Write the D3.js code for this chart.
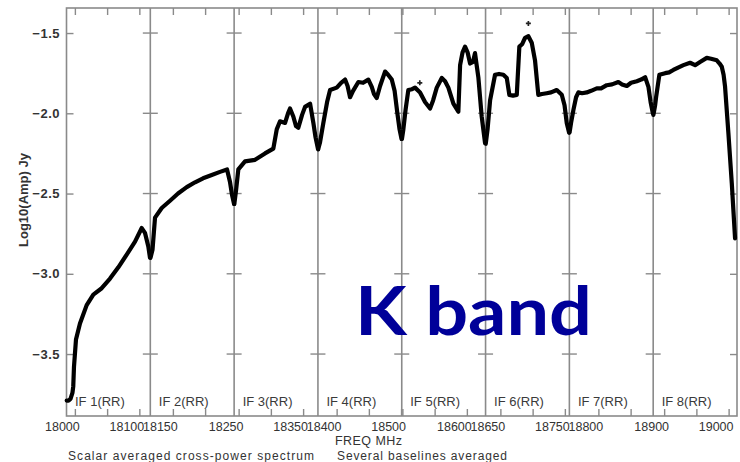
<!DOCTYPE html>
<html>
<head>
<meta charset="utf-8">
<script src="https://cdn.jsdelivr.net/npm/d3@7"></script>
<style>
  html, body { margin: 0; padding: 0; background: #fff; }
  svg { display: block; }
  text { font-family: "Liberation Sans", Arial, Helvetica, sans-serif; }
</style>
</head>
<body>
<svg id="chart" width="740" height="462"></svg>
<script>
// ---------- DATA ----------
const ifNames = ["IF 1(RR)", "IF 2(RR)", "IF 3(RR)", "IF 4(RR)", "IF 5(RR)", "IF 6(RR)", "IF 7(RR)", "IF 8(RR)"];
const ifStartFreq = [17987, 18115, 18243, 18371, 18499, 18627, 18755, 18883]; // MHz
const ifBandwidth = 130; // MHz shown per IF panel
const xTickLabels = [
  [18000, 18100], [18150], [18250, 18350], [18400, 18500],
  [18600], [18650, 18750], [18800], [18900, 19000]
];
const yTicks = [-1.5, -2.0, -2.5, -3.0, -3.5];
const yDomain = [-3.886, -1.344];

// [freq MHz, log10(Amp) Jy] per IF
const if1 = [[17987.3,-3.79],[17990.1,-3.79],[17993.2,-3.78],[17996.3,-3.74],[17997.5,-3.70],[17998.6,-3.58],
  [18001.7,-3.41],[18007.9,-3.31],[18018.3,-3.195],[18028.6,-3.13],[18041.6,-3.09],[18054.5,-3.03],
  [18067.4,-2.96],[18080.4,-2.88],[18093.3,-2.80],[18103.7,-2.715],[18108.7,-2.745],[18113.9,-2.83],[18116.5,-2.90]];
const if2 = [[18115.3,-2.90],[18118.4,-2.85],[18122.3,-2.65],[18132.7,-2.59],[18145.6,-2.545],[18158,-2.50],
  [18171.5,-2.46],[18184.4,-2.43],[18196.8,-2.405],[18210.3,-2.385],[18223.1,-2.365],[18234,-2.35],
  [18238.7,-2.43],[18241.8,-2.51],[18244.9,-2.565]];
const if3 = [[18243.3,-2.565],[18246,-2.48],[18249.5,-2.35],[18259.9,-2.30],[18275.4,-2.29],[18290.9,-2.25],
  [18303.8,-2.22],[18309.1,-2.10],[18314.2,-2.05],[18322,-2.06],[18326.6,-2.00],[18329.7,-1.97],
  [18334.8,-2.02],[18339,-2.08],[18342.6,-2.09],[18348.4,-2.01],[18353,-1.96],[18360.8,-1.94],
  [18365.9,-2.06],[18369.3,-2.15],[18373.2,-2.225]];
const if4 = [[18371.6,-2.22],[18374.3,-2.18],[18379.4,-2.06],[18385.2,-1.93],[18389.8,-1.855],[18400.2,-1.84],
  [18406.9,-1.81],[18413.1,-1.79],[18417,-1.83],[18420.8,-1.90],[18425.5,-1.86],[18433.7,-1.805],
  [18441,-1.81],[18449.2,-1.79],[18454.5,-1.835],[18458,-1.88],[18462.2,-1.905],[18467.4,-1.83],
  [18475.1,-1.74],[18479.8,-1.76],[18485.5,-1.79],[18489.9,-1.86],[18494.2,-2.00],[18497.6,-2.10],[18500.7,-2.16]];
const if5 = [[18499.3,-2.16],[18501.5,-2.10],[18504.9,-1.98],[18509.2,-1.855],[18515,-1.85],[18519.6,-1.84],
  [18527.4,-1.87],[18535.1,-1.93],[18542.9,-1.97],[18547.6,-1.92],[18553.3,-1.84],[18561.1,-1.78],
  [18566.2,-1.80],[18571.3,-1.84],[18579.1,-1.94],[18586.8,-1.99],[18589.5,-1.70],[18593.3,-1.62],
  [18597.2,-1.585],[18601.1,-1.62],[18605,-1.69],[18609.5,-1.68],[18612.6,-1.625],[18617.8,-1.775],
  [18623,-2.02],[18628.2,-2.185]];
const if6 = [[18627.3,-2.19],[18630.1,-2.10],[18634,-1.92],[18641.7,-1.76],[18647.9,-1.755],[18654.6,-1.76],
  [18659.9,-1.78],[18663.9,-1.885],[18669.6,-1.89],[18675.4,-1.885],[18679.4,-1.585],[18683.6,-1.57],
  [18688.2,-1.53],[18693.4,-1.52],[18698.6,-1.56],[18703.7,-1.67],[18708.8,-1.885],[18714.6,-1.88],
  [18721.8,-1.875],[18728.6,-1.87],[18737.4,-1.855],[18745.2,-1.885],[18749.5,-1.95],[18752.9,-2.06],[18756.5,-2.12]];
const if7 = [[18755.3,-2.12],[18757.6,-2.06],[18761.2,-1.98],[18765.4,-1.90],[18769,-1.87],[18774.7,-1.875],
  [18782,-1.87],[18788.7,-1.86],[18797.5,-1.845],[18804.2,-1.845],[18813,-1.825],[18821.2,-1.82],
  [18831,-1.805],[18836.8,-1.82],[18844.1,-1.83],[18850.7,-1.81],[18859.6,-1.80],[18866.3,-1.79],
  [18872.5,-1.775],[18877.6,-1.835],[18881,-1.93],[18884.5,-2.00]];
const if8 = [[18883.3,-2.01],[18886,-1.95],[18887.5,-1.90],[18892.6,-1.76],[18901.5,-1.75],[18907.7,-1.745],
  [18914.3,-1.73],[18921.6,-1.715],[18929.9,-1.70],[18940.2,-1.685],[18948,-1.70],[18955.7,-1.68],
  [18966.1,-1.655],[18972.8,-1.66],[18981.6,-1.67],[18986,-1.69],[18989.4,-1.71],[18992.2,-1.76],
  [18994.5,-1.835],[18999.6,-2.12],[19004.9,-2.435],[19010,-2.78]];
const spectra = [if1, if2, if3, if4, if5, if6, if7, if8];
// isolated outlier points [IF index, freq, value]
const outliers = [[4, 18527, -1.81], [5, 18693.4, -1.44]];

// ---------- LAYOUT ----------
const svg = d3.select("#chart");
const frame = { left: 66.5, right: 737, top: 8, bottom: 416 };
const gridColor = "#8a8a8a";
const textColor = "#333";

const panelEdge = d3.scaleLinear().domain([0, ifNames.length]).range([frame.left, frame.right]);
const y = d3.scaleLinear().domain(yDomain).range([frame.bottom, frame.top]);
const xScales = ifStartFreq.map((f0, i) =>
  d3.scaleLinear().domain([f0, f0 + ifBandwidth]).range([panelEdge(i), panelEdge(i + 1)]));

// frame
svg.append("rect")
  .attr("x", frame.left).attr("y", frame.top)
  .attr("width", frame.right - frame.left).attr("height", frame.bottom - frame.top)
  .attr("fill", "none").attr("stroke", gridColor).attr("stroke-width", 1.6);

// separators
for (let i = 1; i < ifNames.length; i++) {
  svg.append("line")
    .attr("x1", panelEdge(i)).attr("x2", panelEdge(i))
    .attr("y1", frame.top).attr("y2", frame.bottom)
    .attr("stroke", gridColor).attr("stroke-width", 1.6);
}

// per-IF x axes
xScales.forEach((xs, i) => {
  const [d0, d1] = xs.domain();
  const ticks = d3.range(Math.ceil(d0 / 50) * 50, d1 + 0.001, 50);
  const labels = new Set(xTickLabels[i]);
  const bottom = svg.append("g")
    .attr("transform", `translate(0,${frame.bottom})`)
    .call(d3.axisBottom(xs).tickValues(ticks).tickSize(-7).tickPadding(6)
      .tickFormat(d => labels.has(d) ? d3.format("d")(d) : ""));
  bottom.select(".domain").remove();
  bottom.selectAll(".tick line").attr("stroke", gridColor).attr("stroke-width", 1.4);
  bottom.selectAll(".tick text")
    .attr("fill", textColor).attr("font-size", 12.5).attr("dx", -13)
    .style("font-family", "'Liberation Sans', Arial, sans-serif");

  const top = svg.append("g")
    .attr("transform", `translate(0,${frame.top})`)
    .call(d3.axisTop(xs).tickValues(ticks).tickSize(-7).tickFormat(""));
  top.select(".domain").remove();
  top.selectAll(".tick line").attr("stroke", gridColor).attr("stroke-width", 1.4);

  // IF label
  svg.append("text")
    .attr("x", panelEdge(i) + 8.5).attr("y", 406)
    .attr("fill", "#3a3a3a").attr("font-size", 13)
    .text(ifNames[i]);
});

// y axes: left with labels, right without, cross ticks at separators
const leftAxis = svg.append("g")
  .attr("transform", `translate(${frame.left},0)`)
  .call(d3.axisLeft(y).tickValues(yTicks).tickSize(-7).tickPadding(6.5).tickFormat(d3.format(".1f")));
leftAxis.select(".domain").remove();
leftAxis.selectAll(".tick line").attr("stroke", gridColor).attr("stroke-width", 1.4);
leftAxis.selectAll(".tick text")
  .attr("fill", textColor).attr("font-size", 13).attr("font-weight", "bold")
  .attr("letter-spacing", 0.5);

const rightAxis = svg.append("g")
  .attr("transform", `translate(${frame.right},0)`)
  .call(d3.axisRight(y).tickValues(yTicks).tickSize(-7).tickFormat(""));
rightAxis.select(".domain").remove();
rightAxis.selectAll(".tick line").attr("stroke", gridColor).attr("stroke-width", 1.4);

for (let i = 1; i < ifNames.length; i++) {
  svg.append("g").selectAll("line").data(yTicks).join("line")
    .attr("x1", panelEdge(i) - 7.5).attr("x2", panelEdge(i) + 7.5)
    .attr("y1", d => y(d)).attr("y2", d => y(d))
    .attr("stroke", gridColor).attr("stroke-width", 1.4);
}

// spectrum
spectra.forEach((data, i) => {
  const xs = xScales[i];
  const line = d3.line().x(d => xs(d[0])).y(d => y(d[1])).curve(d3.curveLinear);
  svg.append("path")
    .datum(data)
    .attr("d", line)
    .attr("fill", "none").attr("stroke", "#000").attr("stroke-width", 4.2)
    .attr("stroke-linejoin", "round").attr("stroke-linecap", "round");
});

// outlier points (+ symbols)
svg.append("g").selectAll("path").data(outliers).join("path")
  .attr("d", d3.symbol(d3.symbolCross, 14))
  .attr("transform", d => `translate(${xScales[d[0]](d[1])},${y(d[2])})`)
  .attr("fill", "#222");

// axis titles
svg.append("text")
  .attr("transform", "translate(28,200) rotate(-90)")
  .attr("text-anchor", "middle")
  .attr("fill", textColor).attr("font-size", 13).attr("font-weight", "bold")
  .text("Log10(Amp) Jy");

svg.append("text")
  .attr("x", 335).attr("y", 444.5)
  .attr("fill", textColor).attr("font-size", 12.5)
  .attr("textLength", 67).attr("lengthAdjust", "spacing")
  .text("FREQ MHz");

svg.append("text")
  .attr("x", 68).attr("y", 459.5)
  .attr("fill", textColor).attr("font-size", 12)
  .attr("textLength", 246).attr("lengthAdjust", "spacing")
  .text("Scalar averaged cross-power spectrum");

svg.append("text")
  .attr("x", 337).attr("y", 459.5)
  .attr("fill", textColor).attr("font-size", 12)
  .attr("textLength", 170).attr("lengthAdjust", "spacing")
  .text("Several baselines averaged");

// K band annotation
svg.append("text")
  .attr("x", 355).attr("y", 335)
  .attr("fill", "#000099")
  .attr("font-size", 66).attr("font-weight", "bold")
  .style("font-family", "'Gill Sans', 'Lato', 'Open Sans', sans-serif")
  .attr("textLength", 237).attr("lengthAdjust", "spacingAndGlyphs")
  .text("K band");
</script>
</body>
</html>
